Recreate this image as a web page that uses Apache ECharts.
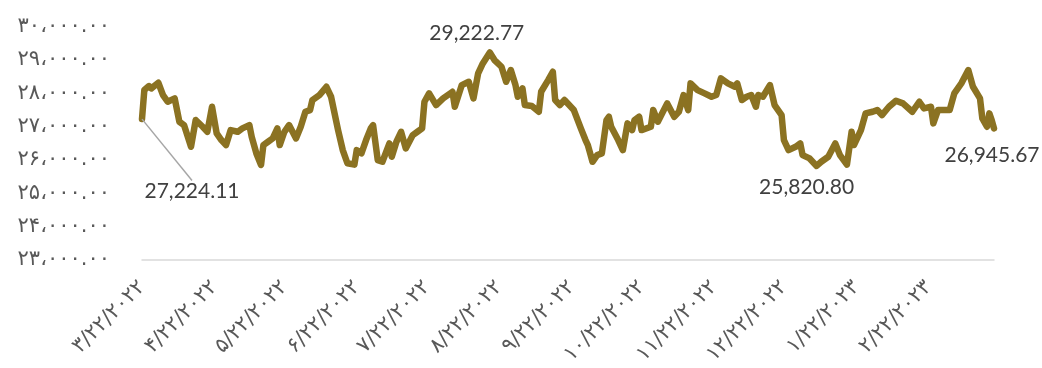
<!DOCTYPE html>
<html>
<head>
<meta charset="utf-8">
<script src="https://cdn.jsdelivr.net/npm/echarts@6/dist/echarts.min.js"></script>
<style>
  html, body { margin: 0; padding: 0; background: #ffffff; }
  #chart { width: 1042px; height: 368px; }
</style>
</head>
<body>
<div id="chart"></div>
<script>
// Daily closes, one year from 22 March 2022.
// dayOffsets: days after the first axis date; prices: closing value on that day.
const START_DATE = '2022-03-22';
const AXIS_DAYS = 366;

const dayOffsets = [
  0, 1, 3, 4, 7, 9, 11, 14, 16, 18, 21, 23, 26, 28, 30, 32, 34, 36, 38, 41,
  43, 46, 47, 49, 51, 52, 54, 56, 58, 59, 61, 63, 66, 68, 70, 72, 73, 76, 79, 81,
  84, 86, 88, 91, 92, 94, 96, 98, 99, 101, 103, 106, 107, 109, 111, 113, 116, 118, 120, 121,
  123, 126, 129, 133, 134, 137, 140, 142, 144, 146, 149, 151, 154, 156, 158, 160, 161, 163, 164, 167,
  170, 171, 174, 176, 177, 179, 181, 183, 185, 188, 190, 191, 192, 193, 195, 197, 199, 200, 201, 204,
  206, 208, 210, 211, 213, 214, 218, 219, 221, 225, 228, 230, 232, 234, 235, 238, 241, 244, 246, 248,
  251, 254, 255, 257, 259, 261, 263, 264, 266, 269, 271, 274, 275, 277, 280, 282, 283, 286, 289, 291,
  294, 297, 299, 302, 304, 305, 308, 310, 313, 315, 317, 320, 323, 326, 330, 333, 335, 338, 339, 341,
  346, 348, 351, 354, 356, 359, 360, 362, 363, 364, 365
];

const prices = [
  27224.11, 28095, 28215, 28145, 28313, 27945, 27744, 27845, 27145, 27045,
  26394, 27195, 26995, 26844, 27594, 26794, 26595, 26445, 26895, 26844,
  26945, 27045, 26694, 26195, 25850, 26445, 26545, 26645, 26945, 26445,
  26844, 27045, 26645, 26995, 27444, 27494, 27795, 27945, 28193, 27894,
  26895, 26295, 25900, 25860, 26295, 26195, 26595, 26945, 27045, 25995,
  25945, 26495, 26095, 26545, 26844, 26345, 26745, 26844, 26945, 27744,
  27995, 27645, 27845, 28043, 27594, 28244, 28343, 27845, 28595, 28894,
  29222.77, 28994, 28793, 28343, 28694, 28244, 27894, 28145, 27645, 27615,
  27444, 28043, 28394, 28643, 27795, 27645, 27795, 27645, 27495, 26945,
  26595, 26445, 26195, 25945, 26145, 26195, 27195, 27294, 26995, 26595,
  26295, 27095, 26895, 27195, 27294, 26895, 26995, 27495, 27145, 27695,
  27294, 27444, 27945, 27495, 28295, 28094, 27995, 27894, 27945, 28445,
  28295, 28193, 28295, 27795, 27894, 27945, 27594, 27945, 27894, 28244,
  27645, 27345, 26595, 26295, 26394, 26495, 26145, 26045, 25820.80, 25945,
  26095, 26495, 26145, 25860, 26844, 26445, 26895, 27395, 27444, 27494,
  27345, 27594, 27774, 27695, 27444, 27744, 27545, 27594, 27095, 27494,
  27494, 27995, 28295, 28694, 28193, 27845, 27245, 26995, 27395, 27195,
  26945.67
];

const yMin = 23000, yMax = 30000, yStep = 1000;

// ---- helpers ----
const FA_DIGITS = '۰۱۲۳۴۵۶۷۸۹';
const toFa = s => String(s).replace(/\d/g, d => FA_DIGITS[+d]);

function isoDay(offset) {
  const [y, m, d] = START_DATE.split('-').map(Number);
  const t = new Date(Date.UTC(y, m - 1, d + offset));
  return t.toISOString().slice(0, 10);
}

const categories = [];
for (let i = 0; i < AXIS_DAYS; i++) categories.push(isoDay(i));

const fmtNumber = v => v.toLocaleString('en-US', { minimumFractionDigits: 2, maximumFractionDigits: 2 });
const fmtAxisValue = v => toFa(fmtNumber(v).replace(/,/g, '،'));
const fmtAxisDate = iso => {
  const [y, m, d] = iso.split('-').map(Number);
  return toFa(m + '/' + d + '/' + y);
};

// Points that carry a value label: first, highest, lowest, last.
const iFirst = 0;
const iLast = prices.length - 1;
const iMax = prices.indexOf(Math.max(...prices));
const iMin = prices.indexOf(Math.min(...prices));

// Label centre offsets from their point, in pixels.
const labelShift = {};
labelShift[iFirst] = [50, 72];
labelShift[iMax] = [-13, -19];
labelShift[iMin] = [-10, 21];
labelShift[iLast] = [-2, 27];

const seriesData = dayOffsets.map((off, i) => {
  const item = { value: [categories[off], prices[i]] };
  if (labelShift[i]) {
    item.label = { show: true };
    item.labelLine = { show: i === iFirst };
  }
  return item;
});

const chart = echarts.init(document.getElementById('chart'), null, { renderer: 'canvas' });

chart.setOption({
  animation: false,
  backgroundColor: '#ffffff',
  grid: {
    left: 142, right: 48, top: 26.5, bottom: 108,
    containLabel: false,
    outerBoundsMode: 'none'
  },
  xAxis: {
    type: 'category',
    data: categories,
    boundaryGap: false,
    axisLine: { show: true, lineStyle: { color: '#d9d9d9', width: 1.5 } },
    axisTick: { show: false },
    splitLine: { show: false },
    axisLabel: {
      rotate: 45,
      margin: 24,
      color: '#595959',
      fontFamily: 'DejaVu Sans',
      fontSize: 21,
      // one label per month, on the 22nd, up to the last full month
      interval: (idx, val) => val.slice(8, 10) === '22' && idx < AXIS_DAYS - 1,
      formatter: val => fmtAxisDate(val)
    }
  },
  yAxis: {
    type: 'value',
    min: yMin,
    max: yMax,
    interval: yStep,
    axisLine: { show: false },
    axisTick: { show: false },
    splitLine: { show: false },
    axisLabel: {
      margin: 32,
      padding: [0, 0, 10, 0],
      color: '#595959',
      fontFamily: 'DejaVu Sans',
      fontSize: 21,
      formatter: v => fmtAxisValue(v)
    }
  },
  series: [{
    type: 'line',
    data: seriesData,
    showSymbol: true,
    showAllSymbol: true,
    symbol: 'circle',
    symbolSize: 0.1,
    itemStyle: { color: '#8b7222' },
    lineStyle: { color: '#8b7222', width: 6.5, join: 'round', cap: 'round' },
    label: {
      show: false,
      position: 'inside',
      color: '#404040',
      fontFamily: 'Lato',
      fontSize: 21,
      formatter: p => fmtNumber(p.value[1])
    },
    labelLine: {
      show: false,
      length2: 12,
      minTurnAngle: 170,
      lineStyle: { color: '#a6a6a6', width: 1.5 }
    },
    labelLayout: params => {
      const s = labelShift[params.dataIndex];
      return s ? { dx: s[0], dy: s[1] } : {};
    },
    emphasis: { disabled: true },
    z: 2
  }]
});
</script>
</body>
</html>
